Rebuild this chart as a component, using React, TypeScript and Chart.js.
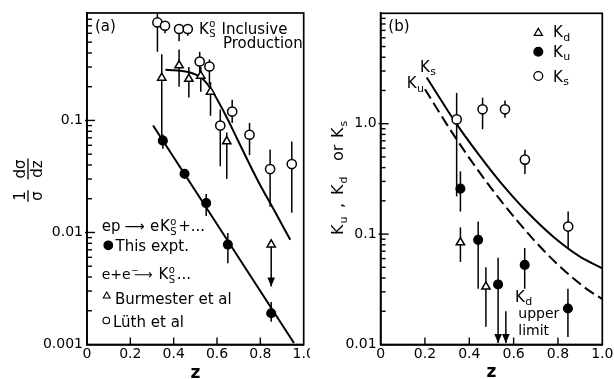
import React, { useEffect, useRef } from 'react';
import { Chart, registerables } from 'chart.js';

Chart.register(...registerables);

const FONT = '"DejaVu Sans", "Liberation Sans", sans-serif';

// ---------------- Panel (a) ----------------
const aXTickValues = [0, 0.2, 0.4, 0.6, 0.8, 1.0];
const aXTickLabels = ['0', '0.2', '0.4', '0.6', '0.8', '1.0'];
const aYTickValues = [0.001, 0.01, 0.1];
const aYTickLabels = ['0.001', '0.01', '0.1'];

// This experiment (filled circles)
const exptZ = [0.35, 0.45, 0.55, 0.65, 0.85];
const exptY = [0.066, 0.0334, 0.0183, 0.0078, 0.0019];
const exptLo = [0.056, 0.03, 0.014, 0.0053, 0.0016];
const exptHi = [0.075, 0.036, 0.022, 0.0099, 0.0024];
const exptLimit = [false, false, false, false, false];

// Burmester et al (open triangles)
const burmZ = [0.345, 0.425, 0.47, 0.525, 0.57, 0.645, 0.85];
const burmY = [0.24, 0.31, 0.235, 0.25, 0.18, 0.065, 0.0078];
const burmLo = [0.063, 0.2, 0.16, 0.18, 0.11, 0.03, 0.0033];
const burmHi = [0.39, 0.43, 0.3, 0.3, 0.22, 0.078, 0.0078];
const burmLimit = [false, false, false, false, false, false, true];

// Lüth et al (open circles)
const luthZ = [0.325, 0.36, 0.425, 0.465, 0.52, 0.565, 0.615, 0.67, 0.75, 0.845, 0.945];
const luthY = [0.75, 0.7, 0.655, 0.655, 0.336, 0.303, 0.09, 0.12, 0.0745, 0.0368, 0.0408];
const luthLo = [0.41, 0.6, 0.51, 0.57, 0.27, 0.21, 0.039, 0.095, 0.049, 0.017, 0.015];
const luthHi = [0.9, 0.76, 0.7, 0.72, 0.41, 0.35, 0.125, 0.153, 0.095, 0.055, 0.065];
const luthLimit = luthZ.map(() => false);

// straight fit through this experiment
const aFitZ = [0.305, 0.955];
const aFitY = [0.09, 0.00103];

// curve through e+e- data
const aCurveZ = [0.362, 0.468, 0.529, 0.574, 0.635, 0.695, 0.786, 0.862, 0.938];
const aCurveY = [0.284, 0.27, 0.239, 0.188, 0.116, 0.0673, 0.0296, 0.016, 0.0086];

// ---------------- Panel (b) ----------------
const bXTickValues = [0, 0.2, 0.4, 0.6, 0.8, 1.0];
const bXTickLabels = ['0', '0.2', '0.4', '0.6', '0.8', '1.0'];
const bYTickValues = [0.01, 0.1, 1];
const bYTickLabels = ['0.01', '0.1', '1.0'];

const kuZ = [0.36, 0.44, 0.53, 0.65, 0.845];
const kuY = [0.258, 0.0887, 0.035, 0.0526, 0.0212];
const kuLo = [0.16, 0.032, 0.0103, 0.032, 0.0117];
const kuHi = [0.37, 0.13, 0.061, 0.075, 0.032];
const kuLimit = [false, false, true, false, false];

const kdZ = [0.36, 0.475];
const kdY = [0.084, 0.0334];
const kdLo = [0.056, 0.0145];
const kdHi = [0.115, 0.05];
const kdLimitFlag = [false, false];

// K_d upper limit
const kdUpperZ = [0.565];
const kdUpperHi = [0.02];
const kdUpperLo = [0.0103];
const kdUpperFlag = [true];

const ksZ = [0.343, 0.46, 0.561, 0.651, 0.846];
const ksY = [1.094, 1.35, 1.35, 0.473, 0.117];
const ksLo = [0.22, 0.89, 1.13, 0.35, 0.074];
const ksHi = [1.9, 1.72, 1.62, 0.58, 0.16];
const ksLimit = [false, false, false, false, false];

const ksCurveZ = [0.208, 0.343, 0.448, 0.538, 0.659, 0.779, 0.899, 1.0];
const ksCurveY = [2.62, 0.99, 0.508, 0.299, 0.16, 0.0946, 0.0625, 0.049];
const kuCurveZ = [0.2, 0.328, 0.448, 0.553, 0.674, 0.794, 0.929, 1.0];
const kuCurveY = [2.05, 0.8, 0.358, 0.189, 0.0968, 0.0542, 0.0319, 0.0258];

// ---------------- helpers ----------------
const pts = (zs: number[], ys: number[]) => zs.map((z, i) => ({ x: z, y: ys[i] }));

function setFont(ctx: CanvasRenderingContext2D, size: number, weight = 'normal') {
  ctx.font = `${weight} ${size}px ${FONT}`;
}
function drawText(ctx: CanvasRenderingContext2D, s: string, x: number, y: number, size: number, weight = 'normal') {
  setFont(ctx, size, weight);
  ctx.fillText(s, x, y);
  return x + ctx.measureText(s).width;
}
function drawK(ctx: CanvasRenderingContext2D, x: number, y: number, size: number, sup: string, sub: string, small: number) {
  const e = drawText(ctx, 'K', x, y, size);
  let w = 0;
  setFont(ctx, small);
  if (sup) {
    ctx.fillText(sup, e + 0.5, y - size * 0.42);
    w = ctx.measureText(sup).width;
  }
  if (sub) {
    ctx.fillText(sub, e + 0.5, y + size * 0.25);
    w = Math.max(w, ctx.measureText(sub).width);
  }
  return e + 0.5 + w;
}
function triangle(ctx: CanvasRenderingContext2D, x: number, y: number, r: number, fill: boolean) {
  ctx.beginPath();
  ctx.moveTo(x, y - r);
  ctx.lineTo(x + r * 0.866, y + r * 0.5);
  ctx.lineTo(x - r * 0.866, y + r * 0.5);
  ctx.closePath();
  if (fill) ctx.fill();
  ctx.stroke();
}
function circle(ctx: CanvasRenderingContext2D, x: number, y: number, r: number, fill: boolean) {
  ctx.beginPath();
  ctx.arc(x, y, r, 0, Math.PI * 2);
  if (fill) ctx.fill();
  ctx.stroke();
}

const framePlugin = {
  id: 'frameTicks',
  afterDraw(chart: any) {
    const { ctx, chartArea: a, scales } = chart;
    ctx.save();
    ctx.strokeStyle = '#000';
    ctx.lineWidth = 1.7;
    ctx.strokeRect(a.left, a.top, a.right - a.left, a.bottom - a.top);
    ctx.lineWidth = 1.4;
    const ys = scales.y;
    ys.ticks.forEach((t: any) => {
      const v = t.value;
      const e = Math.floor(Math.log10(v) + 1e-9);
      const m = v / Math.pow(10, e);
      const r = Math.round(m);
      if (Math.abs(m - r) > 1e-6) return;
      const y = ys.getPixelForValue(v);
      if (y < a.top + 2 || y > a.bottom - 2) return;
      const len = r === 1 ? 8 : 5;
      ctx.beginPath();
      ctx.moveTo(a.left - (r === 1 ? 2 : 0), y);
      ctx.lineTo(a.left + len, y);
      ctx.stroke();
    });
    const xs = scales.x;
    xs.ticks.forEach((t: any) => {
      const x = xs.getPixelForValue(t.value);
      if (x < a.left + 2 || x > a.right - 2) return;
      ctx.beginPath();
      ctx.moveTo(x, a.bottom);
      ctx.lineTo(x, a.bottom - 7);
      ctx.stroke();
    });
    ctx.restore();
  },
};

const errorBarPlugin = {
  id: 'errorBars',
  beforeDatasetsDraw(chart: any) {
    const { ctx, scales } = chart;
    const xs = scales.x;
    const ys = scales.y;
    ctx.save();
    ctx.strokeStyle = '#000';
    ctx.fillStyle = '#000';
    ctx.lineWidth = 1.5;
    chart.data.datasets.forEach((ds: any) => {
      if (!ds.errLo) return;
      ds.data.forEach((p: any, i: number) => {
        const px = xs.getPixelForValue(p.x);
        const y1 = ys.getPixelForValue(ds.errHi[i]);
        const y2 = ys.getPixelForValue(ds.errLo[i]);
        ctx.beginPath();
        ctx.moveTo(px, y1);
        ctx.lineTo(px, y2);
        ctx.stroke();
        if (ds.limit && ds.limit[i]) {
          ctx.beginPath();
          ctx.moveTo(px, y2);
          ctx.lineTo(px - 3.8, y2 - 9);
          ctx.lineTo(px + 3.8, y2 - 9);
          ctx.closePath();
          ctx.fill();
        }
      });
    });
    ctx.restore();
  },
};

function axisOpts(tickValues: number[], tickLabels: string[], isLog: boolean, min: number, max: number, width: number | null) {
  const common: any = {
    min,
    max,
    grid: { display: false, drawTicks: false },
    border: { display: true, color: '#000', width: 1.7 },
    ticks: {
      autoSkip: false,
      maxRotation: 0,
      color: '#000',
      font: { family: FONT, size: 14 },
      padding: width === null ? 1 : 4,
      callback: (v: number) => {
        const i = tickValues.findIndex((t) => Math.abs(t - v) <= Math.abs(t) * 1e-6 + 1e-12);
        return i >= 0 ? tickLabels[i] : '';
      },
    },
  };
  if (isLog) {
    common.type = 'logarithmic';
    common.position = 'left';
    common.afterFit = (s: any) => {
      s.width = width;
      s.paddingTop = 0;
      s.paddingBottom = 0;
    };
  } else {
    common.type = 'linear';
    common.position = 'bottom';
    common.afterBuildTicks = (s: any) => {
      s.ticks = tickValues.map((v) => ({ value: v }));
    };
    common.afterFit = (s: any) => {
      s.height = 34.5;
      s.paddingLeft = 0;
      s.paddingRight = 0;
    };
  }
  return common;
}

function markerDs(label: string, zs: number[], ys: number[], lo: number[], hi: number[], lim: boolean[], style: string, r: number, filled: boolean) {
  return {
    label,
    data: pts(zs, ys),
    errLo: lo,
    errHi: hi,
    limit: lim,
    pointStyle: style,
    pointRadius: r,
    pointBorderWidth: 1.5,
    pointBackgroundColor: filled ? '#000' : '#fff',
    pointBorderColor: '#000',
    showLine: false,
  };
}

function lineDs(label: string, zs: number[], ys: number[], dash: number[]) {
  return {
    label,
    data: pts(zs, ys),
    showLine: true,
    pointRadius: 0,
    borderColor: '#000',
    borderWidth: 2,
    borderDash: dash,
    cubicInterpolationMode: 'monotone',
    fill: false,
  };
}

function drawPanelA(chart: any) {
  const { ctx, chartArea: a } = chart;
  ctx.save();
  ctx.fillStyle = '#000';
  ctx.strokeStyle = '#000';
  ctx.textBaseline = 'alphabetic';
  ctx.textAlign = 'left';
  drawText(ctx, '(a)', 95, 31, 15);
  drawK(ctx, 199, 33.5, 15, 'o', 'S', 10);
  drawText(ctx, 'Inclusive', 221.5, 33.5, 15);
  drawText(ctx, 'Production', 223, 48.3, 15);

  // legend block
  drawText(ctx, 'ep', 101.7, 231, 15);
  drawText(ctx, '⟶', 124.5, 231, 14);
  drawText(ctx, 'e', 150, 231, 15);
  let x = drawK(ctx, 160, 231, 15, 'o', 'S', 10);
  drawText(ctx, '+...', x + 1.5, 231, 15);

  ctx.lineWidth = 1.2;
  circle(ctx, 108.3, 245.3, 4.3, true);
  drawText(ctx, 'This expt.', 115.5, 251, 15);

  x = drawText(ctx, 'e+e', 101.7, 279, 14);
  drawText(ctx, '−', x + 0.3, 273, 9);
  drawText(ctx, '⟶', 134, 279, 13);
  x = drawK(ctx, 158.5, 279, 15, 'o', 'S', 10);
  drawText(ctx, '...', x + 1.5, 279, 15);

  ctx.lineWidth = 1.1;
  triangle(ctx, 106.7, 296, 4, false);
  drawText(ctx, 'Burmester et al', 115, 304, 15);
  circle(ctx, 106.3, 320.5, 3.3, false);
  drawText(ctx, 'Lüth et al', 113, 326.7, 15);

  // x title
  ctx.textAlign = 'center';
  drawText(ctx, 'z', (a.left + a.right) / 2, 377.5, 17, 'bold');

  // y title: (1/σ)(dσ/dz), rotated
  const fraction = (num: string, den: string, cy: number) => {
    ctx.save();
    ctx.translate(27.5, cy);
    ctx.rotate(-Math.PI / 2);
    ctx.textAlign = 'center';
    setFont(ctx, 15);
    const w = Math.max(ctx.measureText(num).width, ctx.measureText(den).width) + 2;
    ctx.fillText(num, 0, -3);
    ctx.fillText(den, 0, 14);
    ctx.lineWidth = 1.3;
    ctx.beginPath();
    ctx.moveTo(-w / 2, 0.5);
    ctx.lineTo(w / 2, 0.5);
    ctx.stroke();
    ctx.restore();
  };
  fraction('1', 'σ', 196);
  fraction('dσ', 'dz', 169);
  ctx.restore();
}

function drawPanelB(chart: any) {
  const { ctx, chartArea: a } = chart;
  const ox = 310; // canvas offset on the page
  ctx.save();
  ctx.fillStyle = '#000';
  ctx.strokeStyle = '#000';
  ctx.textBaseline = 'alphabetic';
  ctx.textAlign = 'left';
  drawText(ctx, '(b)', 388.3 - ox, 31, 15);

  // legend
  ctx.lineWidth = 1.3;
  triangle(ctx, 538.3 - ox, 33, 4.6, false);
  drawK(ctx, 553 - ox, 37.3, 15, '', 'd', 11);
  circle(ctx, 538.3 - ox, 51.7, 4.4, true);
  drawK(ctx, 553 - ox, 56.7, 15, '', 'u', 11);
  circle(ctx, 538.3 - ox, 76, 4.4, false);
  drawK(ctx, 553 - ox, 81.7, 15, '', 's', 11);

  // curve labels
  drawK(ctx, 420 - ox, 71.7, 15, '', 's', 11);
  drawK(ctx, 406.7 - ox, 88.3, 15, '', 'u', 11);

  // K_d upper limit
  drawK(ctx, 515 - ox, 301.7, 15, '', 'd', 11);
  drawText(ctx, 'upper', 518.3 - ox, 318.3, 14);
  drawText(ctx, 'limit', 518.3 - ox, 335, 14);

  // x title
  ctx.textAlign = 'center';
  drawText(ctx, 'z', (a.left + a.right) / 2, 376.5, 17, 'bold');

  // y title
  ctx.save();
  ctx.translate(343 - ox, 235);
  ctx.rotate(-Math.PI / 2);
  ctx.textAlign = 'left';
  drawText(ctx, 'K', 0, 0, 16);
  drawText(ctx, 'u', 11.5, 4, 11);
  drawText(ctx, ',', 27, 0, 16);
  drawText(ctx, 'K', 40, 0, 16);
  drawText(ctx, 'd', 51.5, 4, 11);
  drawText(ctx, 'or', 74, 0, 16);
  drawText(ctx, 'K', 97, 0, 16);
  drawText(ctx, 's', 108.5, 4, 11);
  ctx.restore();
  ctx.restore();
}

export default function App() {
  const refA = useRef<HTMLCanvasElement>(null);
  const refB = useRef<HTMLCanvasElement>(null);

  useEffect(() => {
    const chartA = new Chart(refA.current as HTMLCanvasElement, {
      type: 'scatter',
      data: {
        datasets: [
          markerDs('This expt.', exptZ, exptY, exptLo, exptHi, exptLimit, 'circle', 4.3, true),
          markerDs('Burmester et al', burmZ, burmY, burmLo, burmHi, burmLimit, 'triangle', 4.8, false),
          markerDs('Lüth et al', luthZ, luthY, luthLo, luthHi, luthLimit, 'circle', 4.6, false),
          lineDs('fit', aFitZ, aFitY, []),
          lineDs('curve', aCurveZ, aCurveY, []),
        ] as any,
      },
      options: {
        animation: false,
        responsive: false,
        events: [],
        layout: { padding: { left: 0, top: 13, right: 3, bottom: 0 } },
        plugins: { legend: { display: false }, tooltip: { enabled: false } },
        scales: {
          x: axisOpts(aXTickValues, aXTickLabels, false, 0, 1, null),
          y: axisOpts(aYTickValues, aYTickLabels, true, 0.001, 0.91, 87),
        },
      } as any,
      plugins: [errorBarPlugin, framePlugin, { id: 'annA', afterDraw: drawPanelA }] as any,
    });

    const chartB = new Chart(refB.current as HTMLCanvasElement, {
      type: 'scatter',
      data: {
        datasets: [
          markerDs('Ku', kuZ, kuY, kuLo, kuHi, kuLimit, 'circle', 4.3, true),
          markerDs('Kd', kdZ, kdY, kdLo, kdHi, kdLimitFlag, 'triangle', 4.8, false),
          markerDs('Kd upper limit', kdUpperZ, kdUpperHi, kdUpperLo, kdUpperHi, kdUpperFlag, 'circle', 0, false),
          markerDs('Ks', ksZ, ksY, ksLo, ksHi, ksLimit, 'circle', 4.6, false),
          lineDs('Ks curve', ksCurveZ, ksCurveY, []),
          lineDs('Ku curve', kuCurveZ, kuCurveY, [11, 5]),
        ] as any,
      },
      options: {
        animation: false,
        responsive: false,
        events: [],
        layout: { padding: { left: 0, top: 13.3, right: 11.7, bottom: 0 } },
        plugins: { legend: { display: false }, tooltip: { enabled: false } },
        scales: {
          x: axisOpts(bXTickValues, bXTickLabels, false, 0, 1, null),
          y: axisOpts(bYTickValues, bYTickLabels, true, 0.01, 10, 70.6),
        },
      } as any,
      plugins: [errorBarPlugin, framePlugin, { id: 'annB', afterDraw: drawPanelB }] as any,
    });

    return () => {
      chartA.destroy();
      chartB.destroy();
    };
  }, []);

  return (
    <div style={{ position: 'fixed', left: 0, top: 0, width: 614, height: 379, background: '#fff' }}>
      <canvas ref={refA} width={310} height={379} style={{ position: 'absolute', left: 0, top: 0, width: 310, height: 379 }} />
      <canvas ref={refB} width={304} height={379} style={{ position: 'absolute', left: 310, top: 0, width: 304, height: 379 }} />
    </div>
  );
}
